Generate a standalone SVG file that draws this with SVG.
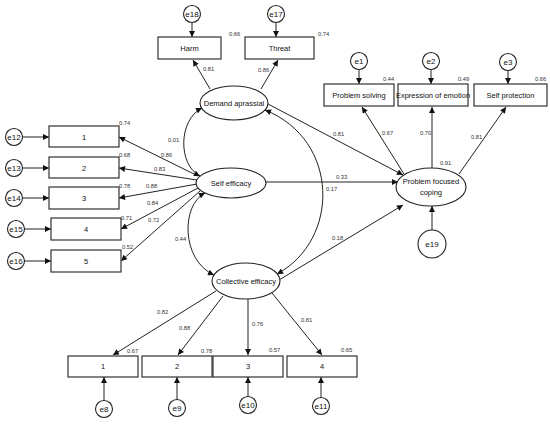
<svg xmlns="http://www.w3.org/2000/svg" width="550" height="425" viewBox="0 0 550 425">
<defs>
<marker id="ah" viewBox="0 0 10 10" refX="10" refY="5" markerWidth="8" markerHeight="6" markerUnits="userSpaceOnUse" orient="auto-start-reverse">
<path d="M0,0 L10,5 L0,10 z" fill="#111"/>
</marker>
<style>
.box{fill:#fff;stroke:#333;stroke-width:1.2}
.ell{fill:#fff;stroke:#222;stroke-width:1.1}
.err{fill:#fff;stroke:#222;stroke-width:1.1}
.t{font-family:"Liberation Sans",Arial,sans-serif;font-size:7.5px;fill:#111;text-anchor:middle}
.e{font-family:"Liberation Sans",Arial,sans-serif;font-size:8px;fill:#111;text-anchor:middle}
.n{font-family:"Liberation Sans",Arial,sans-serif;font-size:5.8px;fill:#333}
.c{fill:none;stroke:#222;stroke-width:1}
.a{fill:none;stroke:#222;stroke-width:1;marker-end:url(#ah)}
.b{fill:none;stroke:#222;stroke-width:1;marker-start:url(#ah);marker-end:url(#ah)}
</style>
</defs>
<rect width="550" height="425" fill="#fff"/>

<g id="connectors">
<line class="a" x1="192" y1="22.5" x2="192" y2="37"/>
<line class="a" x1="276" y1="22.5" x2="276" y2="37"/>
<line class="a" x1="210" y1="89" x2="193" y2="60"/>
<line class="a" x1="261" y1="89" x2="278" y2="60"/>
<line class="a" x1="359" y1="69.5" x2="359" y2="84"/>
<line class="a" x1="431" y1="69.5" x2="431" y2="84"/>
<line class="a" x1="508" y1="70.5" x2="508" y2="84"/>
<line class="a" x1="404" y1="174" x2="362" y2="107"/>
<line class="a" x1="432" y1="168" x2="432" y2="107"/>
<line class="a" x1="459" y1="174" x2="506" y2="107"/>
<line class="a" x1="268" y1="104" x2="403" y2="175"/>
<line class="a" x1="266" y1="182" x2="398" y2="182"/>
<line class="a" x1="279" y1="280" x2="403" y2="205"/>
<line class="a" x1="432" y1="230" x2="432" y2="206"/>
<line class="a" x1="198" y1="176" x2="119" y2="137"/>
<line class="a" x1="197" y1="180" x2="119" y2="168"/>
<line class="a" x1="197" y1="184" x2="119" y2="198"/>
<line class="a" x1="198" y1="188" x2="121" y2="229"/>
<line class="a" x1="200" y1="191" x2="121" y2="261"/>
<line class="a" x1="23" y1="137" x2="49" y2="137"/>
<line class="a" x1="23" y1="168" x2="49" y2="168"/>
<line class="a" x1="23" y1="198" x2="49" y2="198"/>
<line class="a" x1="25" y1="229" x2="51" y2="229"/>
<line class="a" x1="25" y1="261" x2="51" y2="261"/>
<line class="a" x1="216" y1="291" x2="113" y2="355"/>
<line class="a" x1="223" y1="296" x2="178" y2="355"/>
<line class="a" x1="248" y1="299" x2="248" y2="355"/>
<line class="a" x1="272" y1="293" x2="322" y2="355"/>
<line class="a" x1="104" y1="400" x2="104" y2="377"/>
<line class="a" x1="177" y1="399" x2="177" y2="377"/>
<line class="a" x1="248" y1="396" x2="248" y2="377"/>
<line class="a" x1="321" y1="397" x2="321" y2="377"/>
<path class="b" d="M202,108 C178,120 178,165 200,176"/>
<path class="b" d="M205,193 C181,205 181,260 214,275"/>
<path class="b" d="M265,110 C340,140 340,240 277,274"/>
</g>

<g id="e18"><circle class="err" cx="192" cy="14" r="8.5"/><text class="e" x="192" y="17">e18</text></g>
<g id="e17"><circle class="err" cx="276" cy="14" r="8.5"/><text class="e" x="276" y="17">e17</text></g>
<g id="harm"><rect class="box" x="158" y="37" width="63" height="22"/><text class="t" x="189.5" y="50.5">Harm</text></g>
<g id="threat"><rect class="box" x="245" y="37" width="69" height="22"/><text class="t" x="279.5" y="50.5">Threat</text></g>
<g id="demand"><ellipse class="ell" cx="234" cy="103" rx="34" ry="17"/><text class="t" x="234" y="105.5">Demand aprassial</text></g>

<g id="e1"><circle class="err" cx="359" cy="61" r="8.5"/><text class="e" x="359" y="64">e1</text></g>
<g id="e2"><circle class="err" cx="431" cy="61" r="8.5"/><text class="e" x="431" y="64">e2</text></g>
<g id="e3"><circle class="err" cx="508" cy="62" r="8.5"/><text class="e" x="508" y="65">e3</text></g>
<g id="problem-solving"><rect class="box" x="324" y="84" width="70" height="22"/><text class="t" x="359" y="97.5">Problem solving</text></g>
<g id="expression"><rect class="box" x="398" y="84" width="70" height="22"/><text class="t" x="433" y="97.5">Expression of emotion</text></g>
<g id="self-protection"><rect class="box" x="474" y="84" width="73" height="22"/><text class="t" x="510.5" y="97.5">Self protection</text></g>

<g id="self-efficacy"><ellipse class="ell" cx="231" cy="183" rx="35" ry="15"/><text class="t" x="231" y="185.5">Self efficacy</text></g>
<g id="pfc"><ellipse class="ell" cx="431" cy="187" rx="35" ry="19"/><text class="t" x="431" y="184">Problem focused</text><text class="t" x="431" y="195">coping</text></g>
<g id="e19"><circle class="err" cx="432" cy="244" r="14"/><text class="e" x="432" y="247">e19</text></g>

<g id="e12"><circle class="err" cx="14" cy="137" r="8.5"/><text class="e" x="14" y="140">e12</text></g>
<g id="e13"><circle class="err" cx="14" cy="168" r="8.5"/><text class="e" x="14" y="171">e13</text></g>
<g id="e14"><circle class="err" cx="14" cy="198" r="8.5"/><text class="e" x="14" y="201">e14</text></g>
<g id="e15"><circle class="err" cx="16" cy="229" r="8.5"/><text class="e" x="16" y="232">e15</text></g>
<g id="e16"><circle class="err" cx="16" cy="261" r="8.5"/><text class="e" x="16" y="264">e16</text></g>
<g id="se1"><rect class="box" x="49" y="126" width="70" height="21"/><text class="t" x="84" y="139.5">1</text></g>
<g id="se2"><rect class="box" x="49" y="157" width="70" height="21"/><text class="t" x="84" y="170.5">2</text></g>
<g id="se3"><rect class="box" x="49" y="187" width="70" height="22"/><text class="t" x="84" y="200.5">3</text></g>
<g id="se4"><rect class="box" x="51" y="218" width="70" height="22"/><text class="t" x="86" y="231.5">4</text></g>
<g id="se5"><rect class="box" x="51" y="250" width="70" height="22"/><text class="t" x="86" y="263.5">5</text></g>

<g id="collective"><ellipse class="ell" cx="246" cy="281" rx="34" ry="18"/><text class="t" x="246" y="283.5">Collective efficacy</text></g>
<g id="ce1"><rect class="box" x="68" y="356" width="70" height="21"/><text class="t" x="103" y="369">1</text></g>
<g id="ce2"><rect class="box" x="142" y="356" width="70" height="21"/><text class="t" x="177" y="369">2</text></g>
<g id="ce3"><rect class="box" x="213" y="356" width="70" height="21"/><text class="t" x="248" y="369">3</text></g>
<g id="ce4"><rect class="box" x="287" y="356" width="70" height="21"/><text class="t" x="322" y="369">4</text></g>
<g id="e8"><circle class="err" cx="104" cy="409" r="8.5"/><text class="e" x="104" y="412">e8</text></g>
<g id="e9"><circle class="err" cx="177" cy="408" r="8.5"/><text class="e" x="177" y="411">e9</text></g>
<g id="e10"><circle class="err" cx="248" cy="405" r="8.5"/><text class="e" x="248" y="408">e10</text></g>
<g id="e11"><circle class="err" cx="321" cy="406" r="8.5"/><text class="e" x="321" y="409">e11</text></g>

<g id="labels">
<text class="n" x="229" y="36">0.66</text>
<text class="n" x="318" y="36">0.74</text>
<text class="n" x="203" y="71">0.81</text>
<text class="n" x="258" y="72">0.86</text>
<text class="n" x="383" y="81">0.44</text>
<text class="n" x="458" y="81">0.49</text>
<text class="n" x="535" y="81">0.66</text>
<text class="n" x="333" y="136">0.81</text>
<text class="n" x="382" y="135">0.67</text>
<text class="n" x="420" y="135">0.70</text>
<text class="n" x="471" y="139">0.81</text>
<text class="n" x="440" y="165">0.91</text>
<text class="n" x="336" y="179">0.33</text>
<text class="n" x="326" y="191">0.17</text>
<text class="n" x="332" y="240">0.18</text>
<text class="n" x="168" y="142">0.01</text>
<text class="n" x="161" y="157">0.86</text>
<text class="n" x="154" y="171">0.83</text>
<text class="n" x="146" y="188">0.88</text>
<text class="n" x="147" y="205">0.84</text>
<text class="n" x="148" y="222">0.72</text>
<text class="n" x="175" y="241">0.44</text>
<text class="n" x="119" y="125">0.74</text>
<text class="n" x="119" y="157">0.68</text>
<text class="n" x="119" y="188">0.78</text>
<text class="n" x="121" y="220">0.71</text>
<text class="n" x="122" y="249">0.52</text>
<text class="n" x="157" y="314">0.82</text>
<text class="n" x="179" y="330">0.88</text>
<text class="n" x="252" y="326">0.76</text>
<text class="n" x="301" y="322">0.81</text>
<text class="n" x="127" y="353">0.67</text>
<text class="n" x="201" y="353">0.78</text>
<text class="n" x="269" y="352">0.57</text>
<text class="n" x="341" y="352">0.65</text>
</g>
</svg>
